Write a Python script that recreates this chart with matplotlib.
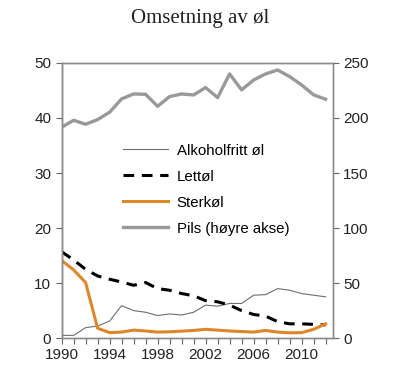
import matplotlib
matplotlib.use("Agg")
import matplotlib.pyplot as plt

# years on x axis
years = list(range(1990, 2013))
# left axis series
alkoholfritt = [0.5, 0.5, 1.9, 2.2, 3.1, 5.9, 5.0, 4.7, 4.1, 4.4, 4.2, 4.7,
                6.0, 5.8, 6.3, 6.3, 7.8, 7.9, 9.0, 8.7, 8.1, 7.8, 7.5]
lettol = [15.7, 14.2, 12.5, 11.3, 10.7, 10.2, 9.6, 10.1, 9.0, 8.7, 8.1, 7.7,
          6.8, 6.6, 6.0, 5.0, 4.3, 4.0, 3.0, 2.6, 2.6, 2.5, 2.4]
sterkol = [14.1, 12.4, 10.1, 1.8, 1.0, 1.1, 1.45, 1.3, 1.1, 1.15, 1.27, 1.4,
           1.6, 1.45, 1.3, 1.2, 1.1, 1.4, 1.1, 0.97, 1.0, 1.6, 2.6]
# right axis series
pils = [191.5, 197.9, 194.3, 198.5, 205.2, 217.3, 221.8, 221.5, 210.6, 219.4, 221.8, 220.9,
        227.6, 218.5, 240.0, 225.5, 234.5, 240.0, 243.6, 237.6, 230.0, 221.0, 217.0]
labels = ["Alkoholfritt øl", "Lettøl", "Sterkøl", "Pils (høyre akse)"]

plt.rcParams['font.family'] = ['Liberation Sans', 'DejaVu Sans']

fig = plt.figure(figsize=(4.0, 3.86), dpi=100)
ax = fig.add_axes([0.154, 0.124, 0.678, 0.713])
ax2 = ax.twinx()

l1, = ax.plot(years, alkoholfritt, color='#6e6e6e', lw=0.8)
l2, = ax.plot(years, lettol, color='black', lw=2.2, dashes=(3.5, 2.5))
l3, = ax.plot(years, sterkol, color='#E0862A', lw=2.2)
l4, = ax2.plot(years, pils, color='#999999', lw=2.4)

ax.set_xlim(1990, 2012.6)
ax.set_ylim(0, 50)
ax2.set_ylim(0, 250)
ax.set_yticks([0, 10, 20, 30, 40, 50])
ax2.set_yticks([0, 50, 100, 150, 200, 250])
ax.set_xticks(range(1990, 2011, 4))
ax.set_xticks(years, minor=True)

for a in (ax, ax2):
    for s in a.spines.values():
        s.set_color('#8c8c8c')
        s.set_linewidth(1.0)
ax.spines['left'].set_color('#555555')
ax.tick_params(axis='both', which='both', direction='out', color='#666666',
               labelsize=11, labelcolor='#222222', length=4, width=0.8)
ax.tick_params(axis='x', which='major', length=4, pad=3)
ax2.tick_params(axis='y', direction='out', color='#666666', labelsize=11,
                labelcolor='#222222', length=4, width=0.8)

fig.text(0.5, 0.953, "Omsetning av øl", ha='center', va='center',
         family='Liberation Serif', fontsize=15, color='#222222')

ax2.legend([l1, l2, l3, l4], labels, loc='upper left',
           bbox_to_anchor=(0.307, 0.628), bbox_transform=fig.transFigure,
           frameon=False, fontsize=10.8, handlelength=3.0, handletextpad=0.6,
           labelspacing=0.8, borderaxespad=0, borderpad=0)

fig.savefig("out.png", dpi=100)
